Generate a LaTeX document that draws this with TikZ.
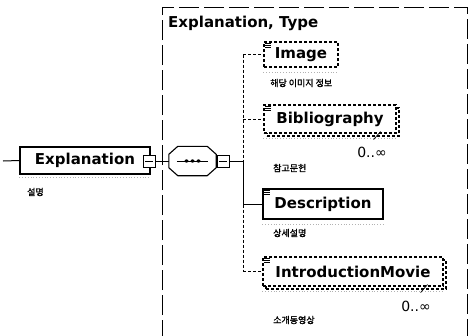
\documentclass[tikz,border=0pt]{standalone}
\usepackage{fontspec}
\setmainfont{DejaVu Sans}
\newfontfamily\kr[AutoFakeBold=1.5]{Noto Sans CJK KR}
\usetikzlibrary{shadows}

\tikzset{
  elbox/.style={draw=black, line width=1.1pt, fill=white, inner sep=0pt,
    font=\bfseries\fontsize{15}{15}\selectfont},
  optbox/.style={elbox, dash pattern=on 3pt off 2pt},
  manybox/.style={optbox, copy shadow={shadow xshift=3pt, shadow yshift=-3pt}},
  minusbox/.style={draw=black, line width=0.9pt, fill=white, minimum size=12pt, inner sep=0pt,
    path picture={\draw[line width=0.9pt] ([xshift=2pt]path picture bounding box.west) -- ([xshift=-2pt]path picture bounding box.east);}},
  conn/.style={line width=1pt},
  optconn/.style={conn, dash pattern=on 3pt off 2pt},
  note/.style={font=\kr\bfseries\fontsize{9}{9}\selectfont, anchor=west, inner sep=0pt},
  occurs/.style={font=\fontsize{14}{14}\selectfont, inner sep=0pt},
  rim/.style={gray!60, dotted, line width=0.8pt},
}

\begin{document}
\begin{tikzpicture}[x=1pt,y=-1pt]
\useasboundingbox (0,0) rectangle (470,335);

% complex type frame
\draw[dash pattern=on 20pt off 5pt, line width=0.9pt] (162,340) -- (162,7) -- (467,7) -- (467,340);
\node[anchor=west, inner sep=0pt, font=\bfseries\fontsize{15}{15}\selectfont] (tname) at (168,23) {Explanation, Type};

% root element
\coordinate (stub) at (3,161);
\node[elbox, minimum width=130pt, minimum height=27pt] (expl) at (85,160.5) {Explanation\hspace{8pt}};
\draw[rim] ([yshift=-3pt]expl.south west) -- ([yshift=-3pt]expl.south east);
\node[minusbox] (emin) at (149,161) {};
\node[note] (expln) at (27,192) {설명};
\draw[conn] (stub) -- (expl.west);

% sequence
\node[minimum width=47pt, minimum height=29pt, inner sep=0pt] (seq) at (192.5,161) {};
\draw[line width=1.1pt, fill=white] ([xshift=9pt]seq.north west) -- ([xshift=-9pt]seq.north east)
  -- ([yshift=-8pt]seq.north east) -- ([yshift=8pt]seq.south east) -- ([xshift=-9pt]seq.south east)
  -- ([xshift=9pt]seq.south west) -- ([yshift=8pt]seq.south west) -- ([yshift=-8pt]seq.north west) -- cycle;
\draw[line width=0.9pt] ([xshift=8pt]seq.west) -- ([xshift=-8pt]seq.east);
\foreach \d in {-6,0,6}{
\fill ([xshift=\d pt]seq.center) ellipse (2pt and 1.6pt);}
\node[minusbox] (smin) at (223,161) {};
\draw[conn] (emin.east) -- (seq.west);
\draw[conn] (seq.east) -- (smin.west);
\coordinate (trunk) at (243,161);
\draw[conn] (smin.east) -- (trunk);

% children
\node[optbox, minimum width=74pt, minimum height=25pt] (img) at (301,54.5) {Image};
\node[manybox, minimum width=132pt, minimum height=28pt] (bib) at (330,119) {Bibliography};
\node[elbox, minimum width=120pt, minimum height=30pt] (desc) at (323,204) {Description};
\node[manybox, minimum width=180pt, minimum height=29pt] (intro) at (353,271.5) {IntroductionMovie};

\foreach \n in {img,bib,desc,intro}{
\draw[rim] ([yshift=-5pt]\n.south west) -- ([yshift=-5pt]\n.south east);
\foreach \k in {2,4,6}{
\draw[line width=0.6pt] ([shift={(2pt,-\k pt)}]\n.north west) -- ([shift={(8pt,-\k pt)}]\n.north west);}}

\foreach \n in {bib,intro}{
\draw[line width=0.7pt] ([shift={(-23pt,-6pt)}]\n.south east) -- ([shift={(-16pt,2pt)}]\n.south east);}

\node[note] (imgn) at (270,83) {해당 이미지 정보};
\node[note] (bibn) at (273,168) {참고문헌};
\node[note] (descn) at (273,233) {상세설명};
\node[note] (intron) at (273,320) {소개동영상};
\node[occurs] (bibo) at (372,152) {0..∞};
\node[occurs] (introo) at (416,306) {0..∞};

% tree
\draw[optconn] (img.west -| trunk) -- (intro.west -| trunk);
\draw[conn] (trunk) -- (desc.west -| trunk);
\draw[optconn] (img.west -| trunk) -- (img.west);
\draw[optconn] (bib.west -| trunk) -- (bib.west);
\draw[conn] (desc.west -| trunk) -- (desc.west);
\draw[optconn] (intro.west -| trunk) -- (intro.west);
\end{tikzpicture}
\end{document}
